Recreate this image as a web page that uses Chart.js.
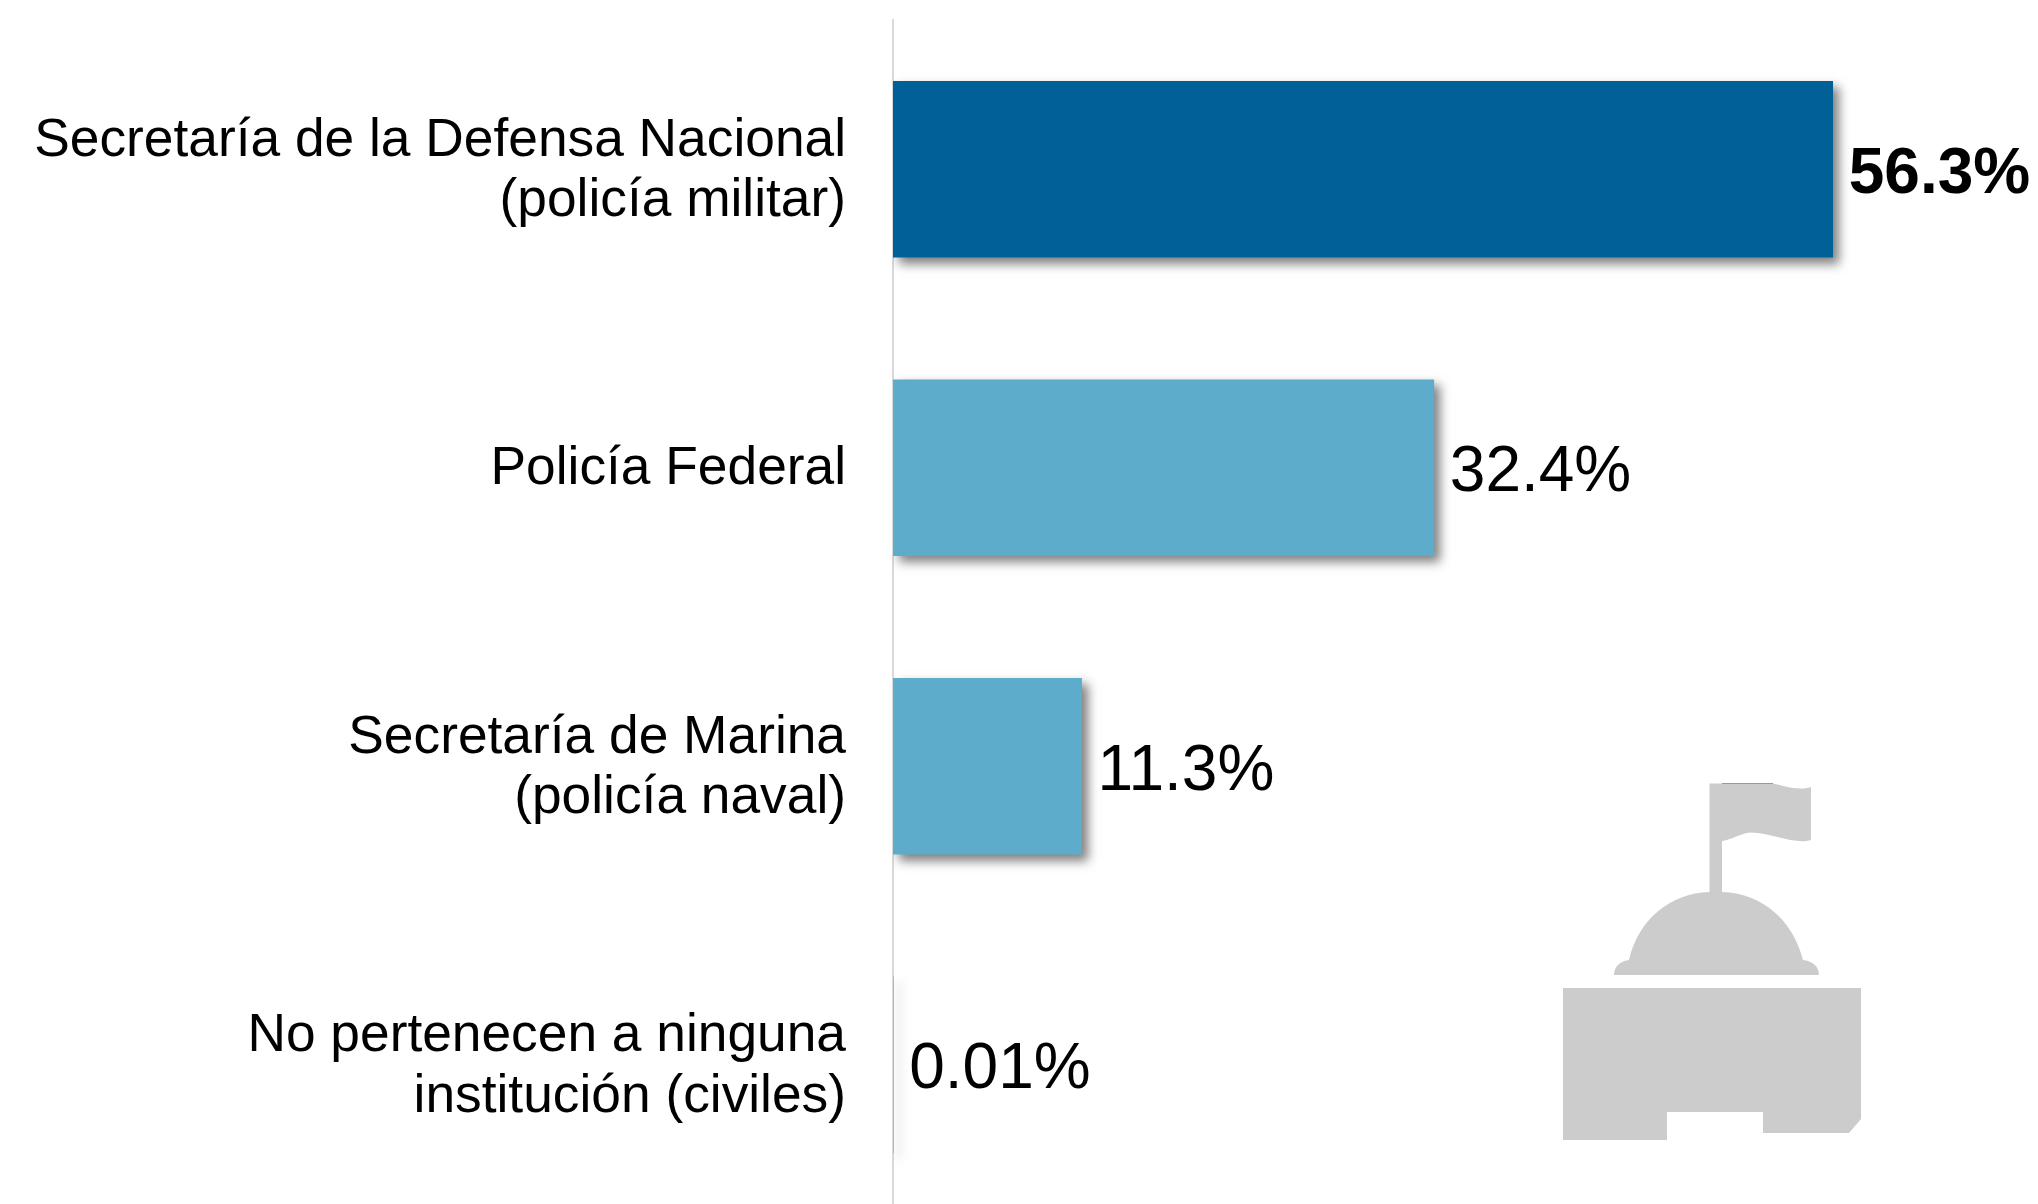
<!DOCTYPE html>
<html><head><meta charset="utf-8">
<style>html,body{margin:0;padding:0;background:#fff;overflow:hidden}#w{width:2038px;height:1204px;overflow:hidden}canvas{display:block}</style>
<script src="https://cdn.jsdelivr.net/npm/chart.js@4"></script></head>
<body><div id="w"><canvas id="c" width="2038" height="1214"></canvas></div>
<script>
const categories=[["Secretaría de la Defensa Nacional","(policía militar)"],"Policía Federal",["Secretaría de Marina","(policía naval)"],["No pertenecen a ninguna","institución (civiles)"]];
const values=[56.3,32.4,11.3,0.01];
const valueLabels=["56.3%","32.4%","11.3%","0.01%"];
const barColors=["#006097","#5DACCC","#5DACCC","#5DACCC"];
const labelBold=[true,false,false,false];
const FONT='"Liberation Sans", Arial, sans-serif';

const barShadow={id:'barShadow',
 beforeDatasetDraw(ch){const x=ch.ctx;x.save();x.shadowColor='rgba(0,0,0,0.5)';x.shadowBlur=10;x.shadowOffsetX=6;x.shadowOffsetY=6;},
 afterDatasetDraw(ch){ch.ctx.restore();}};

const valueText={id:'valueText',afterDatasetsDraw(ch){
 const x=ch.ctx,m=ch.getDatasetMeta(0);x.save();x.fillStyle='#000';x.textBaseline='middle';x.textAlign='left';
 m.data.forEach((b,i)=>{x.font=(labelBold[i]?'bold ':'')+'64px '+FONT;x.fillText(valueLabels[i],b.x+16,b.y+6);});
 x.restore();}};

const icon={id:'icon',afterDraw(ch){
 const x=ch.ctx;x.save();x.fillStyle='#CCCCCC';
 x.beginPath();x.moveTo(1709.5,783.5);x.lineTo(1773,783.5);x.bezierCurveTo(1785,786,1798,791,1811,787);
 x.lineTo(1811,840);x.bezierCurveTo(1795,845,1772,833,1751,832.5);x.bezierCurveTo(1740,833,1732,840,1722,841);
 x.lineTo(1722,892);x.bezierCurveTo(1762,893,1793,920,1803,960);x.bezierCurveTo(1812,961,1819,966,1819,975);
 x.lineTo(1614,975);x.bezierCurveTo(1614,966,1621,961,1629,960);x.bezierCurveTo(1638,920,1670,893,1709.5,892);x.closePath();x.fill();
 x.beginPath();x.moveTo(1563,988);x.lineTo(1861,988);x.lineTo(1861,1119);x.lineTo(1849,1133);x.lineTo(1763,1133);x.lineTo(1763,1112);x.lineTo(1667,1112);x.lineTo(1667,1140);x.lineTo(1563,1140);x.closePath();x.fill();
 x.fillStyle='#999';x.fillRect(1722,783,51,1);
 x.restore();}};

new Chart(document.getElementById('c'),{
 type:'bar',
 data:{labels:categories,datasets:[{data:values,backgroundColor:barColors,borderWidth:0,barThickness:176}]},
 options:{indexAxis:'y',responsive:false,animation:false,
  layout:{padding:{top:20,bottom:0,left:0,right:0}},
  plugins:{legend:{display:false},tooltip:{enabled:false}},
  scales:{
   x:{display:false,min:0,max:68.6},
   y:{position:'left',afterFit(s){s.width=893;s.paddingTop=0;s.paddingBottom=0;},
      grid:{display:false,drawTicks:false},
      border:{display:true,color:'#D9D9D9',width:2},
      ticks:{color:'#000',padding:47,labelOffset:2,crossAlign:'near',font:{family:FONT,size:53.3,lineHeight:1.14},autoSkip:false,maxRotation:0,minRotation:0}}
  }},
 plugins:[barShadow,valueText,icon]
});
</script></body></html>
